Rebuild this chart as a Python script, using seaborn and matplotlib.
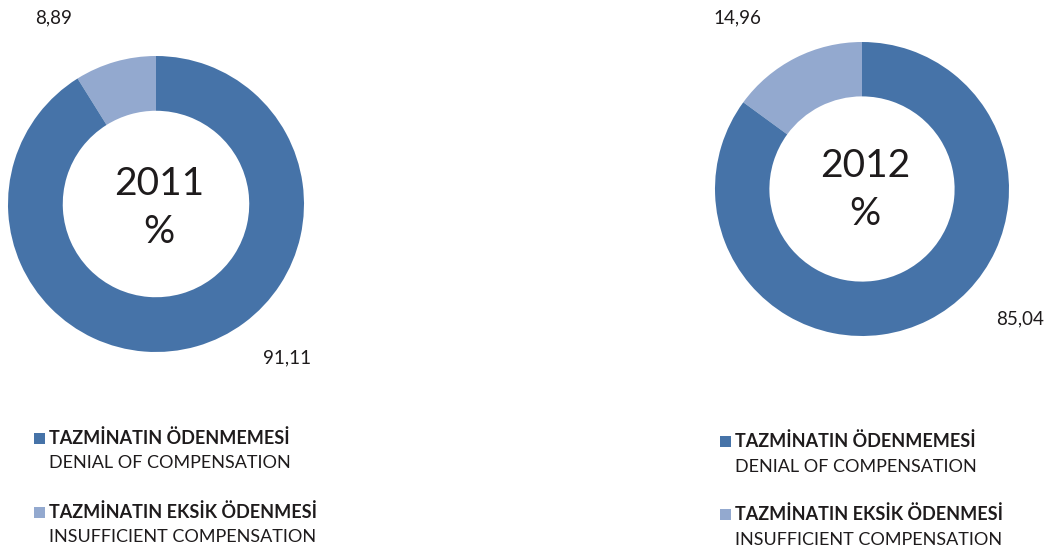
import matplotlib
matplotlib.use("Agg")
import matplotlib.pyplot as plt
from matplotlib.patches import Rectangle
import seaborn as sns

sns.set_theme(style="white")
plt.rcParams["font.family"] = ["Lato", "DejaVu Sans"]

years = ["2011", "2012"]
categories_tr = ["TAZMİNATIN EKSİK ÖDENMESİ", "TAZMİNATIN ÖDENMEMESİ"]
categories_en = ["INSUFFICIENT COMPENSATION", "DENIAL OF COMPENSATION"]
values_2011 = [8.89, 91.11]
values_2012 = [14.96, 85.04]
value_labels_2011 = ["8,89", "91,11"]
value_labels_2012 = ["14,96", "85,04"]

colors = sns.color_palette(["#93a9cf", "#4673a8"])
TXT = "#1e1b1c"

W, H = 1048, 552
fig = plt.figure(figsize=(W / 100, H / 100), dpi=100)
fig.patch.set_facecolor("white")

def fx(x):
    return x / W

def fy(y):
    return 1 - y / H

def donut(cx, cy, r, vals, year, labels, label_pos, year_y):
    ax = fig.add_axes([fx(cx - r), fy(cy + r), 2 * r / W, 2 * r / H])
    ax.pie(vals, colors=colors, startangle=90, counterclock=True, radius=1,
           wedgeprops=dict(width=0.37, edgecolor="none", linewidth=0))
    ax.set_xlim(-1, 1)
    ax.set_ylim(-1, 1)
    ax.set_aspect("auto")
    ax.axis("off")
    fig.text(fx(cx + 3), fy(year_y[0]), year, ha="center", va="center",
             fontsize=28, color=TXT)
    fig.text(fx(cx + 3), fy(year_y[1]), "%", ha="center", va="center",
             fontsize=28, color=TXT)
    for lab, (lx, ly) in zip(labels, label_pos):
        fig.text(fx(lx), fy(ly), lab, ha="center", va="center",
                 fontsize=13.5, color=TXT)

donut(156, 204, 148, values_2011, years[0], value_labels_2011,
      [(54, 18), (287, 358)], (184, 232))
donut(862, 189, 147, values_2012, years[1], value_labels_2012,
      [(737, 18), (1020, 319)], (166, 214))

def legend(x, ys):
    order = [1, 0]
    for (y_tr, y_en), idx in zip(ys, order):
        fig.patches.append(Rectangle((fx(x), fy(y_tr + 6)), 11 / W, 11 / H,
                                     transform=fig.transFigure, facecolor=colors[idx],
                                     edgecolor="none"))
        fig.text(fx(x + 15), fy(y_tr), categories_tr[idx], ha="left", va="center",
                 fontsize=13, fontweight="bold", color=TXT)
        fig.text(fx(x + 15), fy(y_en), categories_en[idx], ha="left", va="center",
                 fontsize=13, color=TXT)

legend(34, [(438, 463), (512, 537)])
legend(720, [(441, 467), (514, 540)])

fig.savefig("out.png", dpi=100, facecolor="white")
